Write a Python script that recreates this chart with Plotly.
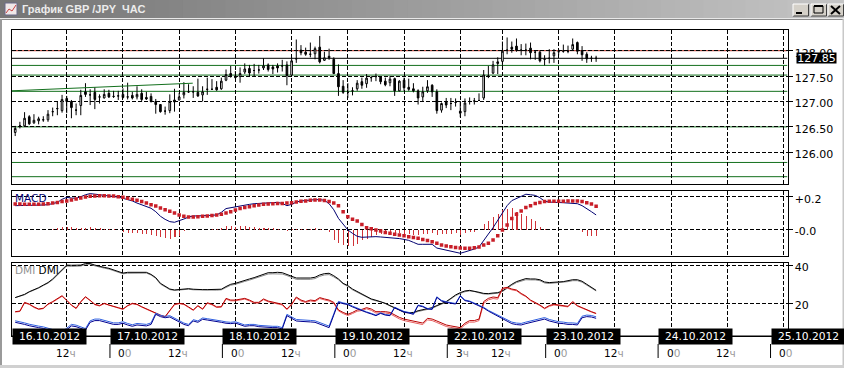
import plotly.graph_objects as go

W, H = 844, 368
highs = [126.52,126.60,126.79,126.73,126.75,126.70,126.71,126.83,126.88,127.00,127.13,127.11,127.03,126.96,127.23,127.36,127.24,127.28,127.14,127.24,127.23,127.21,127.21,127.26,127.37,127.19,127.30,127.24,127.19,127.16,127.05,126.95,126.90,127.14,127.25,127.17,127.38,127.34,127.30,127.45,127.30,127.47,127.44,127.40,127.47,127.63,127.70,127.60,127.67,127.75,127.72,127.74,127.72,127.85,127.75,127.72,127.75,127.82,127.79,127.87,128.22,128.11,128.06,128.16,128.08,128.29,127.98,128.04,127.87,127.73,127.42,127.36,127.28,127.42,127.47,127.54,127.50,127.55,127.50,127.47,127.50,127.47,127.42,127.47,127.45,127.36,127.24,127.29,127.42,127.34,127.24,126.98,127.07,127.07,127.06,127.01,127.06,127.08,127.07,127.16,127.62,127.70,127.80,127.87,128.18,128.26,128.18,128.24,128.13,128.14,128.16,128.00,128.00,127.91,128.03,128.03,128.03,128.12,128.10,128.24,128.18,128.09,127.97,127.90,127.90]
lows = [126.32,126.47,126.50,126.54,126.56,126.55,126.60,126.60,126.71,126.73,126.78,126.77,126.67,126.73,126.73,127.09,126.93,126.85,126.96,127.06,127.07,127.07,127.03,127.06,127.04,127.04,127.04,127.00,127.03,126.98,126.76,126.78,126.74,126.77,126.80,127.02,127.06,127.17,127.07,127.09,127.00,127.13,127.23,127.21,127.23,127.40,127.47,127.45,127.37,127.54,127.49,127.50,127.55,127.62,127.59,127.54,127.57,127.59,127.32,127.51,127.76,127.91,127.90,127.87,127.83,127.75,127.80,127.82,127.54,127.11,127.15,127.07,127.12,127.21,127.25,127.27,127.39,127.40,127.34,127.30,127.30,127.11,127.20,127.21,127.21,127.18,126.94,127.01,127.17,127.09,126.76,126.78,126.87,126.83,126.90,126.69,126.71,126.94,126.94,127.01,127.03,127.46,127.54,127.54,127.70,127.93,127.96,127.98,127.91,127.91,127.83,127.82,127.77,127.71,127.75,127.76,127.91,127.96,127.95,128.01,127.93,127.80,127.76,127.78,127.78]
opens = [126.39,126.52,126.52,126.70,126.58,126.62,126.64,126.64,126.80,126.86,126.82,127.06,127.00,126.83,126.92,127.19,127.13,127.18,127.09,127.07,127.16,127.10,127.11,127.14,127.09,127.12,127.09,127.16,127.08,127.10,127.00,126.94,126.81,126.82,127.03,127.03,127.13,127.19,127.19,127.18,127.13,127.24,127.24,127.28,127.25,127.42,127.55,127.50,127.49,127.58,127.65,127.61,127.62,127.66,127.72,127.68,127.70,127.70,127.72,127.52,127.84,128.01,127.97,127.93,127.94,128.07,127.81,127.89,127.83,127.55,127.30,127.18,127.21,127.25,127.39,127.35,127.47,127.49,127.48,127.40,127.37,127.45,127.21,127.42,127.28,127.25,127.21,127.09,127.21,127.32,127.19,126.83,126.99,126.96,126.98,126.81,126.80,127.00,127.01,127.02,127.07,127.50,127.56,127.78,127.79,128.01,128.07,128.09,128.01,128.01,128.05,127.97,127.97,127.83,127.85,127.90,127.98,127.99,127.99,128.03,128.16,128.00,127.93,127.85,127.85]
closes = [126.47,126.52,126.67,126.56,126.63,126.66,126.64,126.75,126.80,126.86,127.04,127.00,126.88,126.83,127.12,127.14,127.13,127.04,127.09,127.14,127.09,127.10,127.11,127.08,127.09,127.07,127.14,127.04,127.05,127.00,126.94,126.80,126.81,127.00,126.99,127.09,127.18,127.19,127.19,127.11,127.19,127.24,127.24,127.23,127.40,127.53,127.51,127.47,127.55,127.64,127.56,127.61,127.62,127.70,127.63,127.64,127.66,127.70,127.51,127.80,127.84,127.96,127.93,127.93,128.04,127.78,127.86,127.86,127.55,127.29,127.18,127.18,127.21,127.36,127.32,127.46,127.47,127.49,127.39,127.33,127.44,127.21,127.40,127.27,127.24,127.21,127.07,127.19,127.29,127.19,126.82,126.96,126.93,126.96,126.98,126.77,126.97,127.00,127.01,127.02,127.52,127.50,127.72,127.75,127.99,128.01,128.03,128.01,128.01,128.01,127.96,127.97,127.80,127.83,127.85,127.96,127.98,127.99,127.99,128.12,127.99,127.92,127.84,127.85,127.85]

macd_main = [.145,.145,.147,.149,.149,.149,.149,.151,.157,.165,.184,.196,.192,.190,.200,.212,.219,.217,.212,.208,.206,.202,.198,.190,.182,.174,.161,.149,.141,.129,.108,.080,.061,.047,.043,.051,.063,.075,.082,.082,.082,.084,.086,.088,.104,.127,.133,.137,.143,.149,.153,.157,.159,.161,.163,.165,.165,.159,.145,.153,.167,.174,.178,.180,.182,.182,.178,.157,.120,.067,.030,-.004,-.025,-.043,-.049,-.047,-.045,-.045,-.047,-.049,-.051,-.053,-.057,-.062,-.068,-.080,-.092,-.092,-.092,-.092,-.115,-.121,-.127,-.133,-.139,-.147,-.139,-.131,-.121,-.109,-.066,-.029,.010,.057,.098,.145,.176,.190,.204,.215,.212,.208,.194,.172,.167,.167,.163,.163,.161,.159,.157,.145,.129,.108,.088]
macd_signal = [.155,.155,.153,.153,.153,.153,.155,.157,.161,.165,.170,.174,.180,.186,.192,.198,.202,.204,.206,.206,.204,.204,.200,.196,.190,.184,.178,.170,.161,.151,.143,.131,.120,.110,.100,.088,.080,.075,.075,.077,.080,.082,.084,.088,.092,.100,.108,.118,.127,.133,.139,.145,.149,.153,.155,.157,.159,.159,.161,.163,.167,.172,.174,.178,.180,.180,.176,.170,.161,.145,.108,.077,.061,.051,.030,.010,.004,-.004,-.010,-.019,-.025,-.031,-.035,-.039,-.045,-.051,-.055,-.062,-.068,-.076,-.086,-.096,-.102,-.107,-.111,-.115,-.117,-.117,-.113,-.109,-.096,-.086,-.066,-.039,-.004,.026,.067,.092,.112,.133,.145,.159,.165,.170,.172,.172,.172,.172,.174,.174,.174,.170,.163,.155,.141]
macd_hist = [0,0,0,0,0,0,0,0,.004,.008,.016,.018,.018,.014,.014,.012,.016,.010,.008,.006,.004,.002,-.002,-.016,-.018,-.020,-.022,-.025,-.027,-.031,-.035,-.045,-.053,-.055,-.045,-.035,-.008,-.004,-.002,0,0,0,.002,.002,.008,.025,.025,.016,.025,.022,.020,.016,.014,.012,.010,.008,.006,-.004,-.008,.006,.006,.006,.006,.006,.008,.006,0,-.012,-.065,-.080,-.092,-.102,-.100,-.088,-.065,-.055,-.045,-.031,-.025,-.020,-.020,-.020,-.020,-.025,-.025,-.029,-.029,-.027,-.025,-.020,-.029,-.025,-.027,-.025,-.020,-.029,-.020,-.016,-.012,-.004,.037,.057,.078,.098,.119,.125,.133,.112,.098,.082,.067,.051,.018,.004,0,0,0,0,0,0,0,-.014,-.035,-.035,-.039]

adx = [23.0,23.8,24.7,26.1,27.0,28.2,29.6,30.9,32.8,35.2,38.1,40.1,40.0,40.0,40.1,40.9,40.9,40.1,39.3,38.9,38.4,37.5,36.6,35.9,36.3,36.3,36.3,36.3,36.3,35.2,33.5,30.5,28.8,27.5,27.0,27.2,27.7,27.7,27.4,27.2,27.2,27.2,27.2,27.2,27.4,28.8,30.0,30.5,31.4,32.1,32.8,33.5,34.5,35.2,36.1,36.1,36.3,36.1,35.2,34.0,33.3,33.3,33.3,33.3,33.7,34.9,35.6,35.8,34.5,32.8,30.5,29.3,27.5,26.1,24.9,23.5,22.3,21.6,21.0,20.0,18.8,17.7,16.5,15.4,15.1,15.2,16.1,16.6,17.4,17.7,18.8,20.0,20.9,22.6,24.4,25.6,26.5,26.8,26.5,25.8,25.2,25.1,25.4,25.6,26.5,28.4,30.0,31.4,32.4,33.0,32.8,32.8,32.4,31.2,30.9,31.0,31.4,31.4,31.9,32.4,32.4,31.6,30.0,28.6,26.8]
adx_b = [23.0,23.7,24.5,25.9,26.8,28.0,29.3,30.6,32.4,34.8,37.6,39.6,39.4,39.4,39.6,40.4,40.6,39.7,38.9,38.5,38.0,37.1,36.2,35.5,35.8,35.8,35.8,35.9,35.9,34.9,33.1,30.1,28.5,27.2,26.8,27.0,27.4,27.4,27.1,27.0,26.9,27.0,26.9,26.9,27.1,28.4,29.5,30.0,30.9,31.5,32.2,32.9,33.9,34.5,35.4,35.5,35.6,35.4,34.6,33.4,32.6,32.6,32.6,32.6,33.0,34.2,34.9,35.1,33.9,32.4,30.2,28.9,27.1,25.8,24.6,23.2,22.0,21.3,20.8,19.8,18.6,17.5,16.2,15.2,14.9,14.9,15.7,16.2,17.0,17.3,18.5,19.7,20.6,22.3,24.0,25.2,26.1,26.5,26.2,25.5,24.9,24.8,25.1,25.3,26.2,28.0,29.5,30.9,31.8,32.4,32.3,32.3,31.9,30.7,30.4,30.6,30.9,31.0,31.4,31.9,31.9,31.1,29.6,28.2,26.5]
di_plus = [15.6,15.9,20.5,19.6,18.1,17.0,17.4,19.6,20.9,22.6,24.0,21.6,19.1,17.4,20.9,23.5,21.7,19.5,18.8,20.0,19.1,18.2,17.7,17.0,18.8,20.0,19.5,18.2,17.0,15.9,14.9,13.8,13.0,16.5,19.5,20.0,19.6,18.1,16.5,18.8,17.0,20.3,19.5,18.1,18.2,22.6,21.7,21.7,22.3,22.6,21.7,20.5,20.5,22.3,21.2,20.5,20.2,19.5,17.0,19.6,23.3,21.7,20.9,21.7,21.4,23.0,22.3,21.7,20.5,16.5,15.2,14.2,15.2,16.5,16.8,17.7,17.0,15.6,15.6,15.6,15.2,13.8,12.6,11.7,11.2,10.7,10.0,9.6,12.1,11.7,10.7,9.5,8.6,8.1,7.5,7.2,9.5,10.9,10.9,11.7,20.9,22.6,23.3,23.0,27.9,28.4,27.5,27.0,25.2,23.8,21.7,20.5,19.1,17.4,18.8,19.5,19.1,18.8,18.4,20.9,18.8,17.7,16.5,15.6,14.7]
di_plus_b = [15.4,15.7,20.2,19.4,17.8,16.8,17.2,19.4,20.6,22.3,23.7,21.4,18.9,17.2,20.6,23.2,21.5,19.2,18.6,19.8,18.9,18.0,17.5,16.8,18.6,19.7,19.3,18.0,16.8,15.7,14.7,13.6,12.8,16.2,19.2,19.8,19.4,17.8,16.3,18.5,16.8,20.0,19.2,17.8,18.0,22.2,21.3,21.3,21.8,22.2,21.3,20.1,20.1,21.9,20.8,20.1,19.8,19.1,16.6,19.2,22.8,21.2,20.4,21.2,20.9,22.5,21.8,21.2,20.0,16.0,14.6,13.6,14.6,15.8,16.2,17.1,16.3,14.9,14.9,14.9,14.5,13.0,11.8,10.9,10.4,9.9,9.2,8.8,11.3,10.9,9.9,8.7,7.8,7.3,6.8,6.5,8.7,10.1,10.1,10.9,20.0,21.8,22.5,22.2,27.5,28.0,27.1,26.6,24.8,23.5,21.4,20.2,18.8,17.1,18.4,19.1,18.8,18.5,18.1,20.6,18.5,17.5,16.3,15.4,14.5]
di_minus = [10.0,9.6,8.9,8.2,7.5,7.2,6.8,6.3,5.4,4.7,4.2,6.1,8.1,7.7,6.8,5.9,10.0,10.9,10.9,10.2,9.6,8.9,8.9,9.5,8.6,7.9,8.6,8.2,8.1,8.9,14.2,13.0,12.4,12.8,11.6,10.3,8.9,8.2,10.7,10.0,11.6,11.2,10.9,10.3,10.0,9.5,9.3,9.6,8.6,7.9,8.2,8.2,7.7,7.5,7.2,7.2,7.2,6.5,13.5,12.1,10.7,10.5,10.5,10.2,10.0,9.1,8.1,7.2,13.8,20.5,19.8,19.3,18.1,17.0,15.9,15.2,14.4,13.5,14.7,13.8,13.5,17.7,16.5,15.4,14.9,14.2,18.8,18.2,17.0,16.8,23.1,21.2,20.5,20.0,19.6,23.8,21.4,20.9,19.8,18.8,17.5,15.9,14.5,13.3,11.7,10.3,9.3,8.8,8.6,9.3,10.0,10.3,11.0,11.7,10.7,10.0,9.5,9.3,8.9,8.9,8.6,12.4,13.0,12.8,12.1]
di_minus_b = [10.8,10.4,9.7,9.0,8.3,8.0,7.6,7.1,6.2,5.5,5.0,6.9,8.9,8.5,7.6,6.7,10.8,11.7,11.7,11.0,10.4,9.7,9.7,10.3,9.4,8.7,9.4,9.0,8.9,9.7,14.8,13.7,13.1,13.5,12.3,11.0,9.6,8.9,11.4,10.7,12.3,11.9,11.6,11.0,10.7,10.2,10.0,10.3,9.3,8.6,8.9,8.9,8.4,8.2,7.9,7.9,7.9,7.2,14.2,12.9,11.5,11.3,11.3,11.0,10.8,9.9,8.9,8.0,14.5,21.0,20.2,19.7,18.5,17.4,16.3,15.5,14.7,13.8,15.0,14.1,13.8,18.0,16.8,15.7,15.2,14.5,19.1,18.5,17.3,17.1,23.4,21.5,20.8,20.3,19.9,24.1,21.7,21.2,20.1,19.1,17.9,16.3,15.0,13.9,12.4,11.1,10.1,9.6,9.4,10.1,10.8,11.1,11.8,12.5,11.5,10.8,10.3,10.1,9.7,9.7,9.4,13.2,13.8,13.6,12.9]

level_red = 128.00
level_last = 127.85
levels_green = [127.71, 127.52, 127.20, 126.50, 125.80, 125.52]
trend_x = [-0.8, 37.9]
trend_y = [127.21, 127.36]

grid_bars = [11, 23, 35, 47, 59, 71, 83, 95, 104, 116, 128, 140, 152, 164]
date_bars = [-0.79, 23, 47, 71, 95, 116, 140, 164]
date_labels = ["16.10.2012", "17.10.2012", "18.10.2012", "19.10.2012", "22.10.2012", "23.10.2012", "24.10.2012", "25.10.2012"]
hour_bars = grid_bars
hour_main = ["12", "0", "12", "0", "12", "0", "12", "3", "12", "0", "12", "0", "12", "0"]
hour_tail = ["ч", "0", "ч", "0", "ч", "0", "ч", "ч", "ч", "0", "ч", "0", "ч", "0"]
price_ticks = [126.0, 126.5, 127.0, 127.5, 128.0]
price_text = ["126.00", "126.50", "127.00", "127.50", "128.00"]
macd_ticks = [0.0, 0.2]
macd_text = ["-0.0", "+0.2"]
dmi_ticks = [20, 40]
title_text = "График GBP /JPY  ЧАС"

bars = list(range(len(closes)))
for a in (highs, lows, opens, macd_main, macd_signal, macd_hist, adx, adx_b, di_plus, di_plus_b, di_minus, di_minus_b):
    assert len(a) == len(closes), len(a)

FONT = "DejaVu Sans"
X0, X1 = 11.5, 787.5
px = lambda v: v / W
py = lambda v: 1 - v / H
XRANGE = [-0.79, 164.85]

fig = go.Figure()
GRID = dict(showgrid=True, gridcolor="#000", griddash="4px,2px", gridwidth=1, zeroline=False)
AX = dict(showline=True, linecolor="#000", linewidth=1, mirror=True, automargin=False)

# horizontal levels
for lv in levels_green:
    fig.add_shape(type="line", xref="x", yref="y", x0=XRANGE[0], x1=XRANGE[1], y0=lv, y1=lv, line=dict(color="#14701e", width=1), layer="below")
fig.add_shape(type="line", xref="x", yref="y", x0=XRANGE[0], x1=XRANGE[1], y0=level_red, y1=level_red, line=dict(color="#b02a20", width=1), layer="below")
fig.add_shape(type="line", xref="x", yref="y", x0=XRANGE[0], x1=XRANGE[1], y0=level_last, y1=level_last, line=dict(color="#000", width=1), layer="below")

fig.add_trace(go.Scatter(x=trend_x, y=trend_y, mode="lines", line=dict(color="#14701e", width=1), hoverinfo="skip", xaxis="x", yaxis="y"))
fig.add_trace(go.Candlestick(x=bars, open=opens, high=highs, low=lows, close=closes, xaxis="x", yaxis="y", hoverinfo="skip",
                             whiskerwidth=0,
                             increasing=dict(line=dict(color="#000", width=1), fillcolor="#fff"),
                             decreasing=dict(line=dict(color="#000", width=1), fillcolor="#000")))

fig.add_trace(go.Bar(x=bars, y=macd_hist, width=0.22, marker=dict(color="rgba(205,40,45,0.95)", line=dict(width=0)), xaxis="x2", yaxis="y2", hoverinfo="skip"))
fig.add_trace(go.Scatter(x=bars, y=macd_main, mode="lines", line=dict(color="#000070", width=1), xaxis="x2", yaxis="y2", hoverinfo="skip"))
fig.add_trace(go.Scatter(x=bars, y=macd_signal, mode="markers", marker=dict(symbol="square", size=3.5, color="#c81e28", line=dict(width=0)), xaxis="x2", yaxis="y2", hoverinfo="skip"))

for ys, col in ((adx_b, "#8a8a8a"), (adx, "#000"), (di_plus_b, "#e86060"), (di_plus, "#b80000"), (di_minus_b, "#3060e0"), (di_minus, "#000090")):
    fig.add_trace(go.Scatter(x=bars, y=ys, mode="lines", line=dict(color=col, width=1), xaxis="x3", yaxis="y3", hoverinfo="skip"))

TICKF = dict(family=FONT, size=11, color="#000")
YCOM = dict(side="right", ticks="outside", ticklen=4, tickcolor="#000", tickwidth=1, tickfont=TICKF, ticklabelshift=2, **AX, **GRID)
XCOM = dict(range=XRANGE, tickmode="array", tickvals=grid_bars, ticktext=[""] * len(grid_bars), ticks="", fixedrange=True, **AX, **GRID, domain=[px(X0), px(X1)])

fig.update_layout(
    width=W, height=H, margin=dict(l=0, r=0, t=0, b=0, autoexpand=False), paper_bgcolor="#fff", plot_bgcolor="#fff",
    showlegend=False, bargap=0, boxgap=0.5, dragmode=False,
    xaxis=dict(anchor="y", rangeslider=dict(visible=False), **XCOM),
    xaxis2=dict(anchor="y2", **XCOM),
    xaxis3=dict(anchor="y3", **XCOM),
    yaxis=dict(domain=[py(184.0), py(29.5)], range=[125.376, 128.417], tickmode="array", tickvals=price_ticks, ticktext=price_text, anchor="x", **YCOM),
    yaxis2=dict(domain=[py(256.0), py(190.5)], range=[-0.1638, 0.238], tickmode="array", tickvals=macd_ticks, ticktext=macd_text, anchor="x2", **YCOM),
    yaxis3=dict(domain=[py(336.0), py(263.0)], range=[2.8, 41.2], tickmode="array", tickvals=dmi_ticks, ticktext=[str(t) for t in dmi_ticks], anchor="x3", **YCOM),
)

shapes = []
def rect(x0, y0, x1, y1, fill, line=None):
    shapes.append(dict(type="rect", xref="paper", yref="paper", x0=px(x0), x1=px(x1), y0=py(y0), y1=py(y1),
                       fillcolor=fill, line=dict(width=1, color=line) if line else dict(width=0), layer="above"))
def seg(x0, y0, x1, y1, col, w=1):
    shapes.append(dict(type="line", xref="paper", yref="paper", x0=px(x0), x1=px(x1), y0=py(y0), y1=py(y1), line=dict(color=col, width=w), layer="above"))

# window chrome: title gradient
steps = 60
for k in range(steps):
    c = int(118 + (196 - 118) * k / (steps - 1))
    rect(W * k / steps, 0, W * (k + 1) / steps + 1, 18, f"rgb({c},{c},{c})")
seg(0, 18.5, W, 18.5, "#e8e8e8", 1)
seg(0, 19.5, W, 19.5, "#8c8c8c", 1)
rect(0, 19, 2, 366, "#9a9a9a")
rect(842.5, 19, 844, 366, "#c8c8c8")
rect(0, 365, W, 368, "#d0d0d0")

# icon
rect(5, 3, 17, 15, "#f0e8e8", "#6a6a8a")
seg(6, 13, 9, 9, "#c84040")
seg(9, 9, 12, 11, "#c84040")
seg(12, 11, 16, 5, "#c84040")

# window buttons
for bx, glyph in ((793, 0), (811, 1), (828, 2)):
    rect(bx, 4, bx + 15.5, 16, "#d4d0c8")
    seg(bx, 16, bx + 15.5, 16, "#404040")
    seg(bx + 15.5, 4, bx + 15.5, 16, "#404040")
    seg(bx, 4, bx + 15.5, 4, "#ffffff")
    seg(bx, 4, bx, 16, "#ffffff")
seg(796, 13, 802, 13, "#000", 2)
shapes.append(dict(type="rect", xref="paper", yref="paper", x0=px(814), x1=px(823), y0=py(13), y1=py(6), line=dict(color="#000", width=1), fillcolor="rgba(0,0,0,0)", layer="above"))
seg(814, 6, 823, 6, "#000", 2)
seg(831, 6, 840, 14, "#000", 2)
seg(840, 6, 831, 14, "#000", 2)

# time axis
seg(X0, 336, 843, 336, "#000")
for b in date_bars[1:]:
    x = 15.2 + 4.685 * b - 13
    seg(x, 344, x, 358, "#000")

anns = []
anns.append(dict(xref="paper", yref="paper", x=px(20), y=py(9), xanchor="left", yanchor="middle", showarrow=False,
                 text=f"<b>{title_text}</b>", font=dict(family="Liberation Sans", size=11, color="#ececec")))
anns.append(dict(xref="paper", yref="paper", x=px(13), y=py(197.5), xanchor="left", yanchor="middle", showarrow=False,
                 text="MACD", font=dict(family=FONT, size=10.5, color="#000070")))
anns.append(dict(xref="paper", yref="paper", x=px(13), y=py(269.5), xanchor="left", yanchor="middle", showarrow=False,
                 text="<span style='color:#909090'>DMI</span> <span style='color:#000'>DMI</span>", font=dict(family=FONT, size=10.5)))
anns.append(dict(xref="paper", yref="paper", x=px(796), y=py(58.3), xanchor="left", yanchor="middle", showarrow=False,
                 width=39, height=10, bgcolor="#000", borderpad=0, text=str(level_last), font=dict(family=FONT, size=11, color="#fff")))
for b, lab in zip(date_bars, date_labels):
    shift = 0 if b < 0 else -13
    anns.append(dict(xref="x3", yref="paper", x=b, xshift=shift, y=py(336.8), xanchor="left", yanchor="middle", showarrow=False,
                     width=73, height=15, bgcolor="#000", borderpad=0, text=lab, font=dict(family=FONT, size=10.7, color="#fff")))
for i, (b, m, t) in enumerate(zip(hour_bars, hour_main, hour_tail)):
    shift = -13 if t == "ч" and m != "3" else -6.5
    anns.append(dict(xref="x3", yref="paper", x=b, xshift=shift, y=py(353), xanchor="left", yanchor="middle", showarrow=False,
                     text=f"{m}<span style='color:#9a9a9a'>{t}</span>", font=dict(family=FONT, size=10.5, color="#000")))
fig.update_layout(shapes=list(fig.layout.shapes) + shapes, annotations=anns)

fig.write_html("out.html", config=dict(displayModeBar=False), post_script="document.body.style.margin='0';document.body.style.overflow='hidden';")
